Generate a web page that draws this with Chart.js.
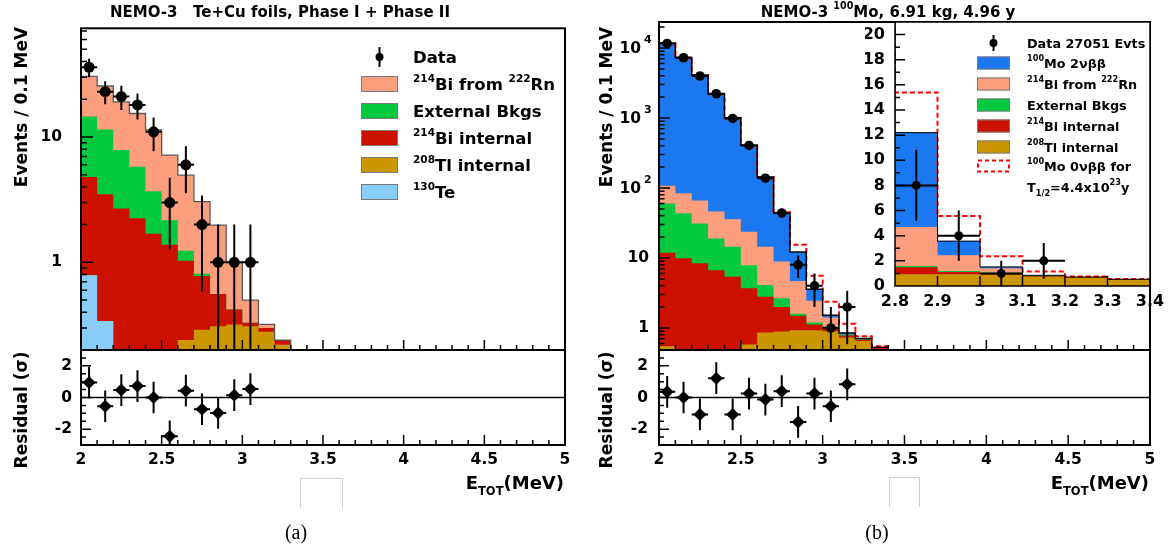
<!DOCTYPE html>
<html>
<head>
<meta charset="utf-8">
<title>NEMO-3 E_TOT spectra</title>
<script src="https://cdn.jsdelivr.net/npm/chart.js@4.4.1/dist/chart.umd.min.js"></script>
<style>
  html, body { margin: 0; padding: 0; background: #fff; }
  #page { position: relative; width: 1172px; height: 552px; overflow: hidden; background: #fff; }
  #page canvas { position: absolute; left: 0; top: 0; width: 1172px; height: 552px; }
</style>
</head>
<body>
<div id="page">
  <canvas id="mainA" width="1172" height="552"></canvas>
  <canvas id="resA" width="1172" height="552"></canvas>
  <canvas id="mainB" width="1172" height="552"></canvas>
  <canvas id="resB" width="1172" height="552"></canvas>
  <canvas id="insetB" width="1172" height="552"></canvas>
</div>
<script>
// ---- panel (a): Te+Cu foils, events per 0.1 MeV bin (bin centres in MeV) ----
const binsA  = [2.05, 2.15, 2.25, 2.35, 2.45, 2.55, 2.65, 2.75, 2.85, 2.95, 3.05, 3.15, 3.25];
const teA    = [0.79, 0.34, 0, 0, 0, 0, 0, 0, 0, 0, 0, 0, 0];
const tlA    = [0, 0, 0, 0, 0, 0, 0.24, 0.29, 0.31, 0.32, 0.31, 0.28, 0.22];
const biIntA = [4.01, 3.16, 2.69, 2.25, 1.69, 1.38, 0.79, 0.49, 0.25, 0.10, 0.02, 0.02, 0.02];
const extA   = [9.8, 8.0, 5.2, 3.55, 2.0, 0.79, 0.21, 0.03, 0, 0, 0, 0, 0];
const rnA    = [15.8, 14.0, 11.2, 9.6, 7.7, 5.0, 3.72, 2.24, 1.42, 0.58, 0.17, 0.02, 0];
const dataXA = [2.05, 2.15, 2.25, 2.35, 2.45, 2.55, 2.65, 2.75, 2.85, 2.95, 3.05];
const dataA  = [36, 23, 21, 18, 11, 3, 6, 2, 1, 1, 1];
const residA = [0.95, -0.55, 0.47, 0.72, 0.0, -2.45, 0.43, -0.74, -0.98, 0.15, 0.53];

// ---- panel (b): 100Mo ----
const binsB  = [2.05, 2.15, 2.25, 2.35, 2.45, 2.55, 2.65, 2.75, 2.85, 2.95, 3.05, 3.15, 3.25, 3.35];
const tlB    = [0.55, 0.42, 0.42, 0.42, 0.45, 0.58, 0.86, 0.89, 0.93, 0.93, 0.90, 0.73, 0.65, 0.50];
const biIntB = [11.35, 9.48, 7.98, 6.28, 4.95, 3.12, 1.94, 1.11, 0.57, 0.19, 0.10, 0.05, 0.03, 0.02];
const extB   = [48.1, 33.6, 22.6, 12.3, 9.1, 4.2, 1.3, 0.65, 0.1, 0.08, 0.05, 0.02, 0.01, 0];
const rnB    = [48, 40.5, 35, 27, 21.2, 15.9, 10.4, 6.25, 3.1, 1.25, 0.36, 0, 0.01, 0.01];
const mo2vB  = [11592, 7216, 4034, 2134, 974, 384, 128.5, 35.1, 7.5, 1.12, 0.11, 0.05, 0.01, 0];
const mo0vB  = [0, 0, 0, 0, 0, 0, 0.3, 1.2, 3.2, 2.0, 0.85, 0.3, 0.05, 0.02];
const dataXB = [2.05, 2.15, 2.25, 2.35, 2.45, 2.55, 2.65, 2.75, 2.85, 2.95, 3.05, 3.15];
const dataB  = [11600, 7250, 3980, 2220, 985, 405, 138, 44, 8, 4, 1, 2];
const residB = [0.36, 0.0, -1.07, 1.22, -1.07, 0.25, -0.13, 0.4, -1.54, 0.25, -0.55, 0.83];

// ---- axis labels ----
const xLabelsE     = [2, 2.5, 3, 3.5, 4, 4.5, 5];
const yLabelsA     = [1, 10];
const yLabelsB     = [1, 10, 100, 1000, 10000];
const residLabels  = [-2, 0, 2];
const insetXLabels = [2.8, 2.9, 3, 3.1, 3.2, 3.3, 3.4];
const insetYLabels = [0, 2, 4, 6, 8, 10, 12, 14, 16, 18, 20];

const legendLabelsA = ['Data', '^{214}Bi from ^{222}Rn', 'External Bkgs', '^{214}Bi internal', '^{208}Tl internal', '^{130}Te'];
const legendLabelsB = ['Data 27051 Evts', '^{100}Mo 2νββ', '^{214}Bi from ^{222}Rn', 'External Bkgs',
                       '^{214}Bi internal', '^{208}Tl internal', '^{100}Mo 0νββ for', 'T_{1/2}=4.4x10^{23}y'];

const COL = { rn: '#fd9f7e', ext: '#04c93f', bi: '#cc1100', tl: '#cc9600', te: '#88ccf8', mo: '#1b78f0' };
const FONT = 'DejaVu Sans';
Chart.defaults.font.family = FONT;
Chart.defaults.color = '#000';

// helpers
function cumulate(layers) {
  const out = [];
  let run = layers[0].map(() => 0);
  layers.forEach(arr => { run = run.map((v, i) => v + arr[i]); out.push(run); });
  return out;
}
// histogram outline as step points on bin edges (log axes cannot take 0)
function steps(bins, vals) {
  const pts = bins.map((c, i) => ({ x: +(c - 0.05).toFixed(3), y: Math.max(vals[i], 1e-3) }));
  pts.push({ x: +(bins[bins.length - 1] + 0.05).toFixed(3), y: 1e-3 });
  return pts;
}
function points(xs, ys) { return xs.map((x, i) => ({ x: x, y: ys[i] })); }
function range(a, b, s) {
  const out = [], n = Math.round((b - a) / s);
  for (let i = 0; i <= n; i++) out.push(Math.round((a + i * s) * 1000) / 1000);
  return out;
}
function logTicks(lo, hi) {
  const out = [];
  for (let e = Math.floor(Math.log10(lo)); e <= Math.ceil(Math.log10(hi)); e++)
    for (let m = 1; m <= 9; m++) {
      const v = +(m * Math.pow(10, e)).toPrecision(6);
      if (v >= lo * 0.999 && v <= hi) out.push(v);
    }
  return out;
}
const isHalf = v => Math.round(v * 10) % 5 === 0;
const isDecade = v => Math.abs(Math.log10(v) - Math.round(Math.log10(v))) < 1e-9;

// text with ^{sup} and _{sub}
function drawRich(ctx, str, x, y, size, align, rot) {
  const parts = [], re = /([\^_])\{([^}]*)\}/g;
  let last = 0, m;
  while ((m = re.exec(str))) {
    if (m.index > last) parts.push({ t: str.slice(last, m.index), k: '' });
    parts.push({ t: m[2], k: m[1] });
    last = re.lastIndex;
  }
  if (last < str.length) parts.push({ t: str.slice(last), k: '' });
  const small = size * 0.64;
  const font = s => 'bold ' + s + 'px "' + FONT + '"';
  let w = 0;
  parts.forEach(p => { ctx.font = font(p.k ? small : size); p.w = ctx.measureText(p.t).width; w += p.w; });
  ctx.save();
  ctx.translate(x, y);
  if (rot) ctx.rotate(rot);
  let cx = align === 'right' ? -w : align === 'center' ? -w / 2 : 0;
  ctx.textAlign = 'left';
  ctx.textBaseline = 'alphabetic';
  ctx.fillStyle = '#000';
  parts.forEach(p => {
    ctx.font = font(p.k ? small : size);
    const dy = p.k === '^' ? -size * 0.5 : p.k === '_' ? size * 0.36 : 0;
    ctx.fillText(p.t, cx, dy);
    cx += p.w;
  });
  ctx.restore();
}

function legendRow(ctx, kind, color, text, box, yMid, xText, size) {
  const [bx, bw, bh] = box;
  ctx.save();
  if (kind === 'data') {
    const cx = bx + bw / 2;
    ctx.strokeStyle = '#000'; ctx.lineWidth = 2;
    ctx.beginPath(); ctx.moveTo(cx, yMid - bh * 0.62); ctx.lineTo(cx, yMid + bh * 0.62); ctx.stroke();
    ctx.beginPath(); ctx.arc(cx, yMid, 4, 0, 2 * Math.PI); ctx.fillStyle = '#000'; ctx.fill();
  } else if (kind === 'box') {
    ctx.fillStyle = color; ctx.fillRect(bx, yMid - bh / 2, bw, bh);
    ctx.strokeStyle = '#7a7a7a'; ctx.lineWidth = 1;
    ctx.strokeRect(bx + 0.5, yMid - bh / 2 + 0.5, bw - 1, bh - 1);
  } else if (kind === 'dash') {
    ctx.strokeStyle = '#ff0000'; ctx.lineWidth = 2; ctx.setLineDash([4, 3]);
    ctx.strokeRect(bx + 1, yMid - bh / 2 + 1, bw - 2, bh - 2);
  }
  ctx.restore();
  if (text) drawRich(ctx, text, xText, yMid + size * 0.37, size, 'left');
}

// error bars drawn under the markers of any dataset that has errY
const errorBars = {
  id: 'errorBars',
  beforeDatasetDraw(chart, args) {
    const ds = chart.data.datasets[args.index];
    if (!ds.errY) return;
    const { ctx, chartArea: a } = chart;
    const xs = chart.scales.x, ys = chart.scales.y;
    ctx.save();
    ctx.beginPath(); ctx.rect(a.left, a.top, a.right - a.left, a.bottom - a.top); ctx.clip();
    ctx.strokeStyle = '#000'; ctx.lineWidth = 2;
    ctx.beginPath();
    ds.data.forEach((p, i) => {
      const px = xs.getPixelForValue(p.x), py = ys.getPixelForValue(p.y);
      const lo = p.y - ds.errY[i], hi = p.y + ds.errY[i];
      const pLo = (ys.type === 'logarithmic' && lo <= 0) ? a.bottom + 5 : ys.getPixelForValue(lo);
      ctx.moveTo(px, ys.getPixelForValue(hi)); ctx.lineTo(px, pLo);
      ctx.moveTo(xs.getPixelForValue(p.x - ds.errX), py); ctx.lineTo(xs.getPixelForValue(p.x + ds.errX), py);
    });
    ctx.stroke();
    ctx.restore();
  }
};

// ROOT style frame with inward tick marks, plus free text of each pad
function frame(cfg) {
  return {
    id: 'frame',
    beforeDraw(chart) {
      if (!cfg.white) return;
      const a = chart.chartArea, ctx = chart.ctx;
      ctx.save(); ctx.fillStyle = '#fff';
      ctx.fillRect(a.left, a.top, a.right - a.left, a.bottom - a.top);
      ctx.restore();
    },
    beforeDatasetsDraw(chart) {
      if (!cfg.zeroLine) return;
      const { ctx, chartArea: a } = chart;
      const py = chart.scales.y.getPixelForValue(0);
      ctx.save(); ctx.strokeStyle = '#000'; ctx.lineWidth = 1.5;
      ctx.beginPath(); ctx.moveTo(a.left, py); ctx.lineTo(a.right, py); ctx.stroke();
      ctx.restore();
    },
    afterDraw(chart) {
      const { ctx, chartArea: a, scales: { x, y } } = chart;
      ctx.save();
      ctx.strokeStyle = '#000';
      ctx.lineWidth = 1.5;
      ctx.beginPath();
      x.ticks.forEach(t => {
        const px = x.getPixelForValue(t.value);
        if (px < a.left + 1 || px > a.right - 1) return;
        const len = cfg.xMajor(t.value) ? cfg.xLen[0] : cfg.xLen[1];
        ctx.moveTo(px, a.bottom); ctx.lineTo(px, a.bottom - len);
      });
      y.ticks.forEach(t => {
        const py = y.getPixelForValue(t.value);
        if (py < a.top + 1 || py > a.bottom - 1) return;
        const len = cfg.yMajor(t.value) ? cfg.yLen[0] : cfg.yLen[1];
        ctx.moveTo(a.left, py); ctx.lineTo(a.left + len, py);
      });
      ctx.stroke();
      ctx.lineWidth = cfg.lw;
      ctx.strokeRect(a.left, a.top, a.right - a.left, a.bottom - a.top);
      ctx.restore();
      if (cfg.extra) { ctx.save(); cfg.extra(ctx, chart); ctx.restore(); }
    }
  };
}

function scale(type, min, max, tickVals, labelFn, size, pad, show, fontSize) {
  return {
    type: type, min: min, max: max, bounds: 'data',
    grid: { display: false, drawTicks: false }, border: { display: false },
    ticks: { display: show, autoSkip: false, maxRotation: 0, minRotation: 0, padding: pad, color: '#000',
             font: { family: FONT, weight: 'bold', size: fontSize || 15.5 }, callback: labelFn },
    afterBuildTicks: s => { s.ticks = tickVals.map(v => ({ value: v })); },
    afterFit: s => { if (s.isHorizontal()) s.height = size; else s.width = size; }
  };
}
function baseOpts(padding, scales) {
  return {
    responsive: false, animation: false, events: [], devicePixelRatio: 1,
    layout: { padding: padding },
    plugins: { legend: { display: false }, tooltip: { enabled: false } },
    scales: scales
  };
}
function fillSet(bins, vals, color, order) {
  return { type: 'line', data: steps(bins, vals), stepped: 'before', fill: 'start',
           backgroundColor: color, borderColor: color, borderWidth: 0, pointRadius: 0, order: order, clip: 0 };
}
function lineSet(bins, vals, color, width, order, dash) {
  return { type: 'line', data: steps(bins, vals), stepped: 'before', fill: false,
           borderColor: color, borderWidth: width, borderDash: dash || [], pointRadius: 0, order: order, clip: 0 };
}
function dataSet(xs, ys, errs, radius, style) {
  return { type: 'scatter', data: points(xs, ys), errY: errs, errX: 0.05, order: 0,
           pointRadius: radius, pointStyle: style || 'circle', pointBackgroundColor: '#000', pointBorderWidth: 0 };
}

const xTicksE = range(2, 5, 0.1);
const xLab = v => { const k = Math.round(v * 10); return k % 5 === 0 ? String(k / 10) : ''; };
const resTicks = range(-3, 3, 0.5);
const resLab = v => residLabels.includes(v) ? String(v) : '';

// ================= panel (a) =================
const cumA = cumulate([teA, tlA, biIntA, extA, rnA]);
new Chart(document.getElementById('mainA'), {
  type: 'line',
  data: { datasets: [
    dataSet(dataXA, dataA, dataA.map(Math.sqrt), 5.5),
    lineSet(binsA, cumA[4], '#5a5a5a', 1.3, 1),
    fillSet(binsA, cumA[0], COL.te, 2),
    fillSet(binsA, cumA[1], COL.tl, 3),
    fillSet(binsA, cumA[2], COL.bi, 4),
    fillSet(binsA, cumA[3], COL.ext, 5),
    fillSet(binsA, cumA[4], COL.rn, 6)
  ] },
  options: baseOpts({ left: 0, top: 22, right: 607, bottom: 202 }, {
    x: scale('linear', 2, 5, xTicksE, xLab, 0, 0, false),
    y: scale('logarithmic', 0.2, 73.6, logTicks(0.2, 73.6), v => yLabelsA.includes(v) ? String(v) : '', 81, 19, true)
  }),
  plugins: [errorBars, frame({
    lw: 2, xMajor: isHalf, yMajor: isDecade, xLen: [10, 5], yLen: [12, 6],
    extra: ctx => {
      drawRich(ctx, 'NEMO-3   Te+Cu foils, Phase I + Phase II', 280, 16.5, 15, 'center');
      drawRich(ctx, 'Events / 0.1 MeV', 27, 107, 17, 'center', -Math.PI / 2);
      const rowsY = [57, 84, 111, 138, 165, 192];
      const kinds = ['data', 'box', 'box', 'box', 'box', 'box'];
      const cols = [null, COL.rn, COL.ext, COL.bi, COL.tl, COL.te];
      legendLabelsA.forEach((t, i) => legendRow(ctx, kinds[i], cols[i], t, [361, 37, 16], rowsY[i], 413, 16.5));
    }
  })]
});

new Chart(document.getElementById('resA'), {
  type: 'line',
  data: { datasets: [ dataSet(dataXA, residA, residA.map(() => 1), 6.5, 'rectRot') ] },
  options: baseOpts({ left: 0, top: 350, right: 607, bottom: 0 }, {
    x: scale('linear', 2, 5, xTicksE, xLab, 107, 6, true),
    y: scale('linear', -3, 3, resTicks, resLab, 81, 9, true)
  }),
  plugins: [errorBars, frame({
    lw: 2, zeroLine: true, xMajor: isHalf, yMajor: v => residLabels.includes(v), xLen: [10, 5], yLen: [10, 5],
    extra: ctx => {
      drawRich(ctx, 'Residual (σ)', 27, 410, 17, 'center', -Math.PI / 2);
      drawRich(ctx, 'E_{TOT}(MeV)', 564, 489, 18, 'right');
      ctx.fillStyle = '#000'; ctx.font = '20px "Liberation Serif"'; ctx.textAlign = 'center';
      ctx.fillText('(a)', 296, 539);
      ctx.strokeStyle = '#cfcfcf'; ctx.lineWidth = 1;
      ctx.beginPath(); ctx.moveTo(300.5, 508); ctx.lineTo(300.5, 478.5); ctx.lineTo(342.5, 478.5); ctx.lineTo(342.5, 508); ctx.stroke();
    }
  })]
});

// ================= panel (b) =================
const cumB = cumulate([tlB, biIntB, extB, rnB, mo2vB, mo0vB]);
new Chart(document.getElementById('mainB'), {
  type: 'line',
  data: { datasets: [
    dataSet(dataXB, dataB, dataB.map(Math.sqrt), 4.8),
    lineSet(binsB, cumB[4], '#000', 1.5, 1),
    lineSet(binsB, cumB[5], '#ff0000', 2, 2, [5, 3]),
    fillSet(binsB, cumB[0], COL.tl, 3),
    fillSet(binsB, cumB[1], COL.bi, 4),
    fillSet(binsB, cumB[2], COL.ext, 5),
    fillSet(binsB, cumB[3], COL.rn, 6),
    fillSet(binsB, cumB[4], COL.mo, 7)
  ] },
  options: baseOpts({ left: 599, top: 22, right: 22, bottom: 202 }, {
    x: scale('linear', 2, 5, xTicksE, xLab, 0, 0, false),
    // decade labels with exponents are drawn by the frame plugin from the scale
    y: scale('logarithmic', 0.485, 23500, logTicks(0.485, 23500), () => '', 60, 8, true)
  }),
  plugins: [errorBars, frame({
    lw: 2, xMajor: isHalf, yMajor: isDecade, xLen: [10, 5], yLen: [11, 5.5],
    extra: (ctx, chart) => {
      drawRich(ctx, 'NEMO-3 ^{100}Mo, 6.91 kg, 4.96 y', 888, 16.5, 15, 'center');
      drawRich(ctx, 'Events / 0.1 MeV', 612, 107, 17, 'center', -Math.PI / 2);
      const ys = chart.scales.y;
      yLabelsB.forEach(v => {
        const py = ys.getPixelForValue(v);
        const e = Math.round(Math.log10(v));
        ctx.fillStyle = '#000';
        ctx.textBaseline = 'middle';
        ctx.textAlign = 'right';
        ctx.font = 'bold 15.5px "' + FONT + '"';
        if (e < 2) { ctx.fillText(String(v), 649, py); return; }
        ctx.fillText('10', 641, py + 1);
        ctx.textAlign = 'left';
        ctx.font = 'bold 11px "' + FONT + '"';
        ctx.fillText(String(e), 644, py - 8);
      });
    }
  })]
});

new Chart(document.getElementById('resB'), {
  type: 'line',
  data: { datasets: [ dataSet(dataXB, residB, residB.map(() => 1), 6.5, 'rectRot') ] },
  options: baseOpts({ left: 599, top: 350, right: 22, bottom: 0 }, {
    x: scale('linear', 2, 5, xTicksE, xLab, 107, 6, true),
    y: scale('linear', -3, 3, resTicks, resLab, 60, 11, true)
  }),
  plugins: [errorBars, frame({
    lw: 2, zeroLine: true, xMajor: isHalf, yMajor: v => residLabels.includes(v), xLen: [10, 5], yLen: [10, 5],
    extra: ctx => {
      drawRich(ctx, 'Residual (σ)', 612, 410, 17, 'center', -Math.PI / 2);
      drawRich(ctx, 'E_{TOT}(MeV)', 1149, 489, 18, 'right');
      ctx.fillStyle = '#000'; ctx.font = '20px "Liberation Serif"'; ctx.textAlign = 'center';
      ctx.fillText('(b)', 877, 539);
      ctx.strokeStyle = '#cfcfcf'; ctx.lineWidth = 1;
      ctx.beginPath(); ctx.moveTo(889.5, 507); ctx.lineTo(889.5, 477.5); ctx.lineTo(919.5, 477.5); ctx.lineTo(919.5, 507); ctx.stroke();
    }
  })]
});

// inset: linear zoom on 2.8 - 3.4 MeV
const insetIdx = dataXB.map((x, i) => i).filter(i => dataXB[i] > 2.8);
new Chart(document.getElementById('insetB'), {
  type: 'line',
  data: { datasets: [
    dataSet(insetIdx.map(i => dataXB[i]), insetIdx.map(i => dataB[i]), insetIdx.map(i => Math.sqrt(dataB[i])), 4.5),
    lineSet(binsB, cumB[4], '#000', 1, 1),
    lineSet(binsB, cumB[5], '#ff0000', 2, 2, [5, 3]),
    fillSet(binsB, cumB[0], COL.tl, 3),
    fillSet(binsB, cumB[1], COL.bi, 4),
    fillSet(binsB, cumB[2], COL.ext, 5),
    fillSet(binsB, cumB[3], COL.rn, 6),
    fillSet(binsB, cumB[4], COL.mo, 7)
  ] },
  options: baseOpts({ left: 865, top: 22, right: 22, bottom: 246 }, {
    x: scale('linear', 2.8, 3.4, insetXLabels, v => String(Math.round(v * 10) / 10), 20, 6, true, 16),
    y: scale('linear', 0, 21, range(0, 20, 1), v => insetYLabels.includes(v) ? String(v) : '', 30, 10, true, 16)
  }),
  plugins: [errorBars, frame({
    lw: 1.5, white: true, xMajor: () => true, yMajor: v => insetYLabels.includes(v), xLen: [10, 5], yLen: [10, 5],
    extra: ctx => {
      const rowsY = [43, 63, 84, 105, 126, 147, 166, 187];
      const kinds = ['data', 'box', 'box', 'box', 'box', 'box', 'dash', 'none'];
      const cols = [null, COL.mo, COL.rn, COL.ext, COL.bi, COL.tl, null, null];
      legendLabelsB.forEach((t, i) => legendRow(ctx, kinds[i], cols[i], t, [977, 33, 13], rowsY[i], 1027, 12.8));
    }
  })]
});
</script>
</body>
</html>
